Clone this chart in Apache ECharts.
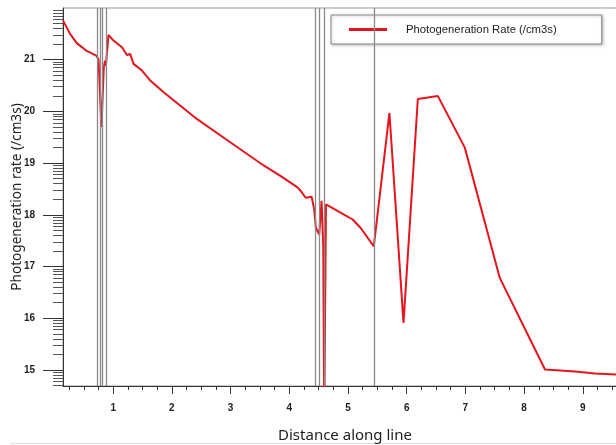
<!DOCTYPE html>
<html>
<head>
<meta charset="utf-8">
<title>Photogeneration rate</title>
<script src="https://cdn.jsdelivr.net/npm/echarts@6/dist/echarts.min.js"></script>
<style>
    html, body { margin: 0; padding: 0; background: #fff; }
    #chart { width: 616px; height: 445px; }
</style>
</head>
<body>
<div id="chart"></div>
<script>
// Distance along line and photogeneration rate (log10 of /cm3s)
var distance = [
    0.145, 0.265, 0.38, 0.55, 0.71, 0.75, 0.80, 0.84, 0.86, 0.875,
    0.92, 1.005, 1.15, 1.234, 1.29, 1.347, 1.49, 1.63, 1.86, 2.43,
    3.0, 3.57, 3.855, 4.14, 4.197, 4.28, 4.38, 4.424, 4.453, 4.51,
    4.55, 4.578, 4.595, 4.61, 4.625, 4.653, 4.88, 5.08, 5.22, 5.44,
    5.706, 5.946, 6.19, 6.53, 6.99, 7.586, 8.356, 8.87, 9.21, 9.6
];
var rate = [
    21.76, 21.50, 21.32, 21.17, 21.08, 21.01, 19.70, 20.85, 20.98, 20.88,
    21.48, 21.37, 21.24, 21.09, 21.11, 20.92, 20.79, 20.60, 20.37, 19.85,
    19.40, 18.95, 18.75, 18.53, 18.46, 18.33, 18.35, 18.11, 17.75, 17.62,
    18.27, 17.40, 14.0, 14.0, 18.20, 18.17, 18.04, 17.91, 17.74, 17.39,
    19.97, 15.91, 20.24, 20.30, 19.30, 16.78, 15.01, 14.97, 14.93, 14.91
];

// Region boundaries (vertical gray lines)
var boundaries = [0.735, 0.778, 0.812, 0.889, 4.44, 4.515, 4.59, 5.44];

// Axis ticks
var xMajorTicks = [1, 2, 3, 4, 5, 6, 7, 8, 9];
var xMinorTicks = [0.25, 0.5, 0.75, 1.25, 1.5, 1.75, 2.25, 2.5, 2.75, 3.25, 3.5, 3.75,
    4.25, 4.5, 4.75, 5.25, 5.5, 5.75, 6.25, 6.5, 6.75, 7.25, 7.5, 7.75,
    8.25, 8.5, 8.75, 9.25, 9.5];
var yMajorTicks = [15, 16, 17, 18, 19, 20, 21];
var yDecades = [14, 15, 16, 17, 18, 19, 20, 21];
var yMultipliers = [2, 3, 4, 5, 6, 7, 8, 9];

var X_MIN = 0.145, X_MAX = 9.6;
var Y_MIN = 14.69, Y_MAX = 22;

var yMinorTicks = [];
yDecades.forEach(function(d) {
    yMultipliers.forEach(function(m) {
        var v = d + Math.log10(m);
        if (v >= Y_MIN && v <= Y_MAX) yMinorTicks.push(v);
    });
});

var axisColor = '#333';
var labelFont = { color: '#222', fontFamily: 'Liberation Sans', fontSize: 10, fontWeight: 'bold' };

var chart = echarts.init(document.getElementById('chart'));

var option = {
    animation: false,
    grid: {
        left: 63, top: 8, right: -2, bottom: 59,
        outerBoundsMode: 'none',
        containLabel: false,
        show: true, borderColor: '#9a9a9a', borderWidth: 1
    },
    legend: {
        left: 331, top: 15,
        data: ['Photogeneration Rate (/cm3s)'],
        icon: 'rect',
        itemWidth: 38, itemHeight: 3,
        padding: [9, 45, 9, 18],
        backgroundColor: '#fff',
        borderColor: '#888', borderWidth: 1,
        shadowColor: 'rgba(0,0,0,0.25)', shadowBlur: 3, shadowOffsetX: 1, shadowOffsetY: 1,
        textStyle: { color: '#222', fontFamily: 'Liberation Sans', fontSize: 11.3, padding: [0, 0, 0, 14] }
    },
    xAxis: [{
        type: 'value', min: X_MIN, max: X_MAX,
        name: 'Distance along line', nameLocation: 'middle', nameGap: 42,
        nameMoveOverlap: false,
        nameTextStyle: { color: '#222', fontFamily: 'Noto Sans', fontSize: 15, padding: [0, 0, 0, 9] },
        axisLine: { lineStyle: { color: axisColor } },
        axisTick: { customValues: xMajorTicks, length: 8, lineStyle: { color: axisColor } },
        axisLabel: Object.assign({ customValues: xMajorTicks, margin: 17 }, labelFont),
        splitLine: { show: false }
    }, {
        type: 'value', min: X_MIN, max: X_MAX, position: 'bottom',
        axisLine: { show: false },
        axisTick: { customValues: xMinorTicks, length: 4, lineStyle: { color: axisColor } },
        axisLabel: { show: false },
        splitLine: { show: false }
    }],
    yAxis: [{
        type: 'value', min: Y_MIN, max: Y_MAX,
        name: 'Photogeneration rate (/cm3s)', nameLocation: 'middle', nameGap: 39,
        nameMoveOverlap: false,
        nameTextStyle: { color: '#222', fontFamily: 'Noto Sans', fontSize: 13.6 },
        axisLine: { lineStyle: { color: axisColor } },
        axisTick: { customValues: yMajorTicks, length: 20, lineStyle: { color: axisColor } },
        axisLabel: Object.assign({ customValues: yMajorTicks, margin: 28 }, labelFont),
        splitLine: { show: false }
    }, {
        type: 'value', min: Y_MIN, max: Y_MAX, position: 'left',
        axisLine: { show: false },
        axisTick: { customValues: yMinorTicks, length: 10, lineStyle: { color: '#555' } },
        axisLabel: { show: false },
        splitLine: { show: false }
    }],
    graphic: [{
        type: 'line',
        shape: { x1: 10, y1: 443.5, x2: 616, y2: 443.5 },
        style: { stroke: '#e2e2e2', lineWidth: 1 }
    }],
    series: [{
        name: 'Photogeneration Rate (/cm3s)',
        type: 'line',
        xAxisIndex: 0, yAxisIndex: 0,
        data: distance.map(function(d, i) { return [d, rate[i]]; }),
        showSymbol: false,
        lineStyle: { color: '#e6141c', width: 2 },
        itemStyle: { color: '#e6141c' },
        markLine: {
            silent: true,
            symbol: 'none',
            label: { show: false },
            lineStyle: { color: '#8a8a8a', width: 1.3, type: 'solid' },
            data: boundaries.map(function(b) { return { xAxis: b }; })
        },
        z: 3
    }]
};

chart.setOption(option);
</script>
</body>
</html>
